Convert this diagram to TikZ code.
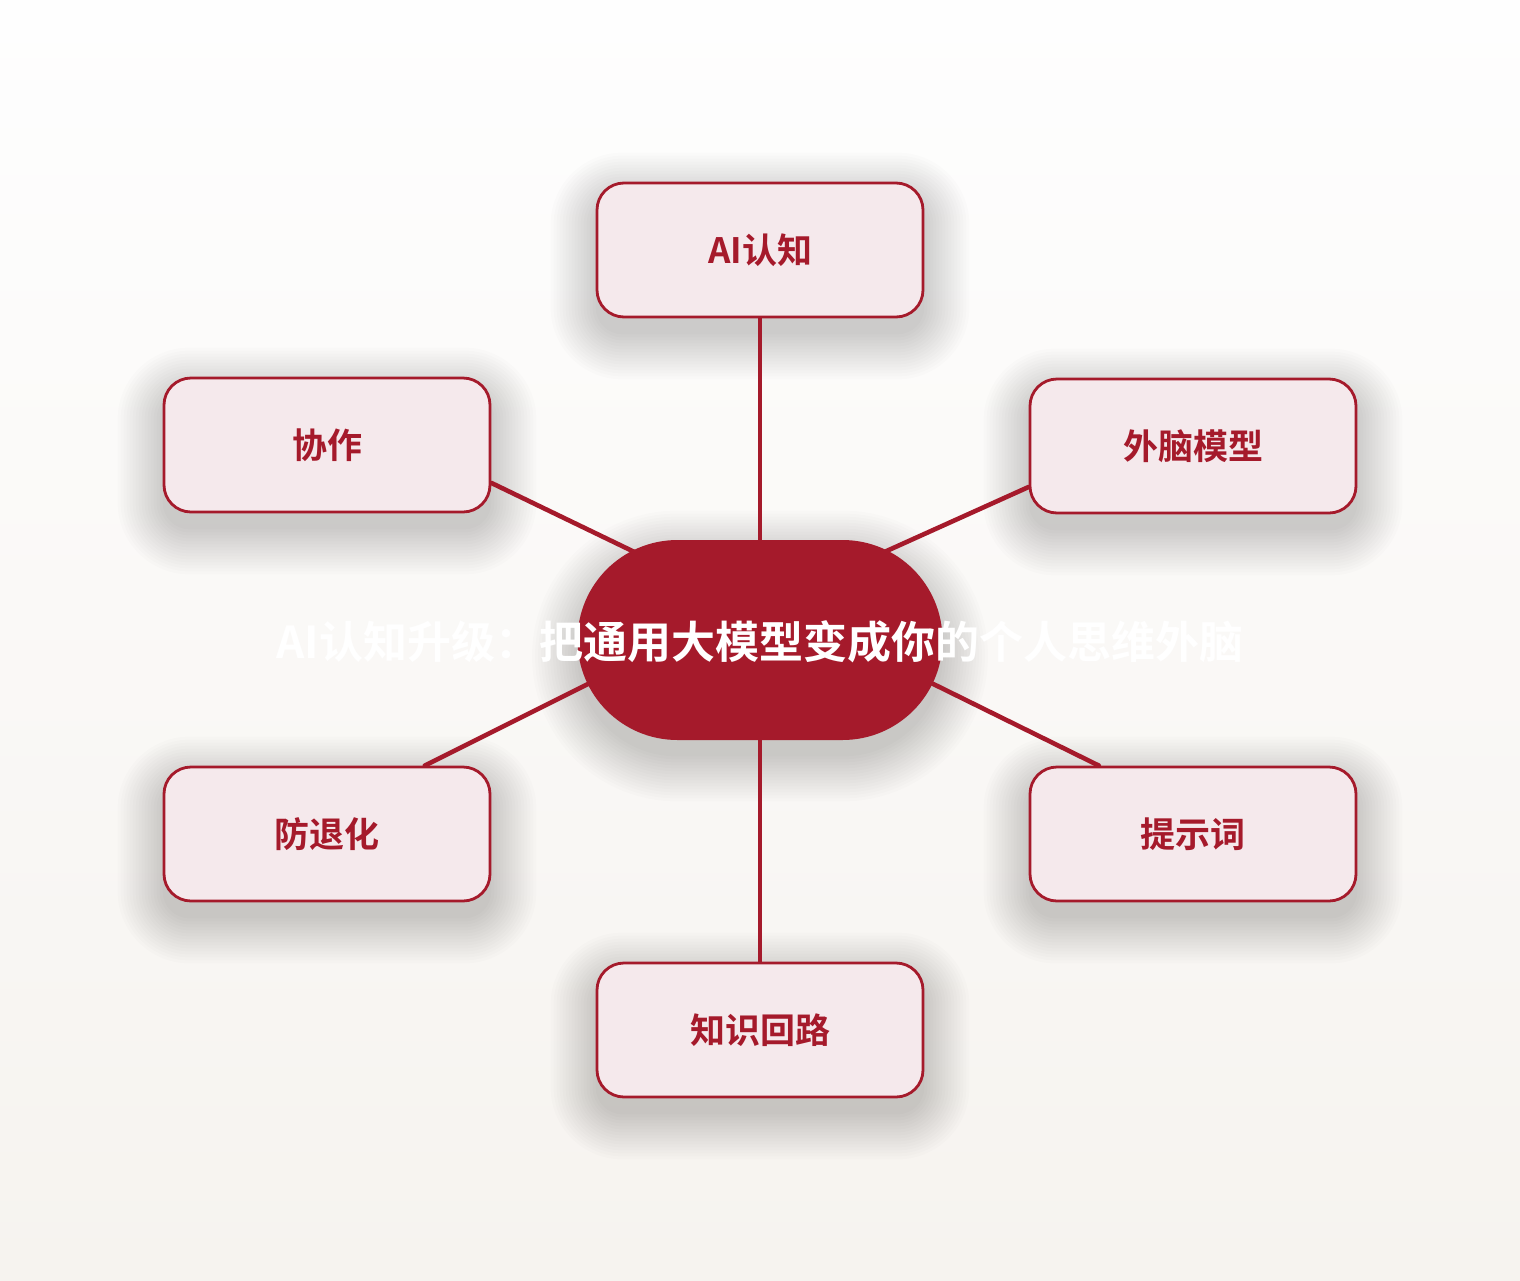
\documentclass[tikz,border=0pt]{standalone}
\usepackage{fontspec}
\newfontfamily\cjk{Noto Sans CJK SC}[BoldFont={Noto Sans CJK SC Bold}]
\usetikzlibrary{backgrounds,calc}
\definecolor{crimson}{HTML}{A51A2B}
\definecolor{boxfill}{HTML}{F5E9EC}
\definecolor{bgtop}{HTML}{FEFEFE}
\definecolor{bgbot}{HTML}{F6F3EF}
\pgfdeclarelayer{bglayer}
\pgfdeclarelayer{shadowlayer}
\pgfsetlayers{bglayer,shadowlayer,background,main}
\tikzset{
  leaf/.style={draw=crimson, line width=1.4pt, fill=boxfill, rounded corners=13.5pt,
    minimum width=163pt, minimum height=67pt, inner sep=0pt,
    font=\cjk\bfseries\fontsize{17.5pt}{20pt}\selectfont, text=crimson},
  hub/.style={fill=crimson, rounded corners=50pt, minimum width=182.5pt, minimum height=100pt,
    inner sep=0pt},
  hubtext/.style={text=white, font=\cjk\bfseries\fontsize{22pt}{26pt}\selectfont, inner sep=0pt},
  link/.style={draw=crimson, line width=2.3pt, line cap=round},
  softshade/.style={fill=black, opacity=0.011}
}
\newcommand{\softshadow}[2]{% node name, corner radius (pt)
  \foreach \i in {0,1.5,...,22.5}{
    \fill[softshade, rounded corners=#2pt+\i pt]
      ($(#1.south west)+(-\i pt,-8pt-\i pt)$) rectangle ($(#1.north east)+(\i pt,-8pt+\i pt)$);
  }%
}
\begin{document}
\begin{tikzpicture}[x=0.5pt,y=-0.5pt]
\useasboundingbox (0,0) rectangle (1520,1280);
\begin{pgfonlayer}{bglayer}
  \shade[top color=bgtop, bottom color=bgbot] (0,0) rectangle (1520,1280);
\end{pgfonlayer}
% nodes
\node[leaf] (ai) at (760,250) {AI认知};
\node[leaf] (xz) at (327,445) {协作};
\node[leaf] (wn) at (1193,446) {外脑模型};
\node[leaf] (ft) at (327,834) {防退化};
\node[leaf] (ts) at (1193,834) {提示词};
\node[leaf] (zs) at (760,1030) {知识回路};
\node[hub] (hub) at (760,640) {};
\node[hubtext] (title) at (760,642) {AI认知升级：把通用大模型变成你的个人思维外脑};
% shadows
\begin{pgfonlayer}{shadowlayer}
  \softshadow{ai}{13.5}
  \softshadow{xz}{13.5}
  \softshadow{wn}{13.5}
  \softshadow{ft}{13.5}
  \softshadow{ts}{13.5}
  \softshadow{zs}{13.5}
  \softshadow{hub}{50}
\end{pgfonlayer}
% connectors (behind nodes)
\begin{scope}[on background layer]
  \coordinate (hxz) at ($(hub.center)+(-80,-66)$);
  \coordinate (hwn) at ($(hub.center)+(80,-68)$);
  \coordinate (hft) at ($(hub.center)+(-80,-2)$);
  \coordinate (hts) at ($(hub.center)+(80,-2)$);
  \draw[link] (ai.south) -- (hub.center);
  \draw[link] (zs.north) -- (hub.center);
  \draw[link] (xz.-13.5) -- (hxz);
  \draw[link] (wn.-166.2) -- (hwn);
  \draw[link] (ft.35.8) -- (hft);
  \draw[link] (ts.144.2) -- (hts);
\end{scope}
\end{tikzpicture}
\end{document}
